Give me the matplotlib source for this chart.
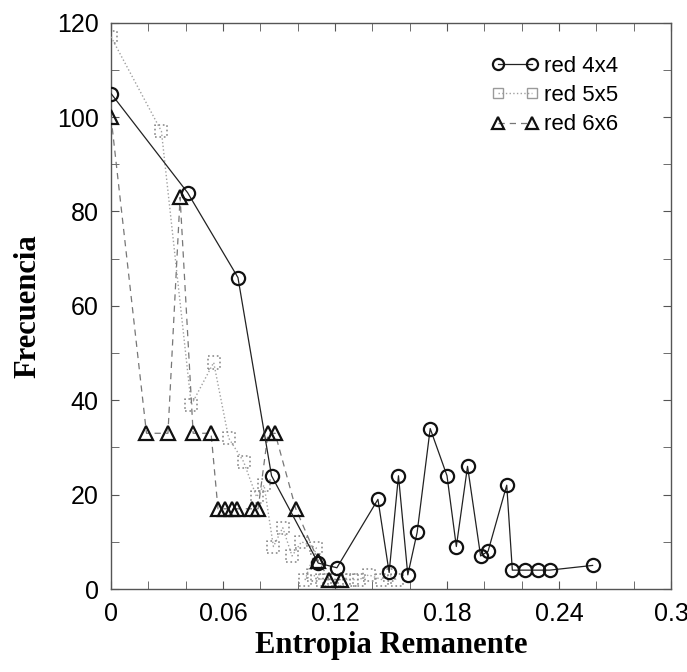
import numpy as np
import matplotlib.pyplot as plt
from matplotlib.ticker import MultipleLocator
from matplotlib.lines import Line2D

# red 4x4
x4 = [0, 0.041, 0.068, 0.086, 0.111, 0.121, 0.143, 0.149, 0.154, 0.159, 0.164,
      0.171, 0.18, 0.185, 0.191, 0.198, 0.202, 0.212, 0.215, 0.222, 0.229, 0.235, 0.258]
y4 = [105, 84, 66, 24, 5.5, 4.5, 19, 3.5, 24, 3, 12,
      34, 24, 9, 26, 7, 8, 22, 4, 4, 4, 4, 5]

# red 5x5
x5 = [0, 0.027, 0.043, 0.055, 0.063, 0.071, 0.078, 0.082, 0.087, 0.092, 0.097, 0.102, 0.110,
      0.104, 0.108, 0.113, 0.117, 0.121, 0.125, 0.129, 0.133, 0.138, 0.145, 0.149, 0.153]
y5 = [117, 97, 39, 48, 32, 27, 19.5, 22, 9, 13, 7, 10, 8.7,
      2, 3, 2, 2, 2, 2, 2, 2, 3, 2, 3, 2]

# red 6x6
x6 = [0, 0.019, 0.0305, 0.037, 0.044, 0.0536, 0.0573, 0.061, 0.0648, 0.0675,
      0.0755, 0.0788, 0.0841, 0.0879, 0.099, 0.111, 0.117, 0.123]
y6 = [100, 33, 33, 83, 33, 33, 17, 17, 17, 17,
      17, 17, 33, 33, 17, 6, 2, 2]

xticks = [0, 0.06, 0.12, 0.18, 0.24, 0.3]
xlabels = ['0', '0.06', '0.12', '0.18', '0.24', '0.3']
yticks = [0, 20, 40, 60, 80, 100, 120]

fig = plt.figure(figsize=(6.87, 6.72), dpi=100)
ax = fig.add_axes([0.1616, 0.1235, 0.8151, 0.8427])

l4, = ax.plot(x4, y4, '-', color='#222222', lw=0.9, marker='o', ms=9.5,
              mfc='none', mec='#111111', mew=1.6, zorder=4)
ax.plot(x5, y5, ':', color='#a0a0a0', lw=1.0, zorder=3)
ax.scatter(x5, y5, marker='s', s=75, facecolors='none', edgecolors='#8c8c8c',
           linewidths=1.2, linestyles=':', zorder=3)
l6, = ax.plot(x6, y6, '--', color='#777777', lw=0.9, dashes=(5, 4), marker='^', ms=10,
              mfc='none', mec='#111111', mew=1.6, zorder=3)
# legend proxy for the dotted squares
p5 = Line2D([], [], ls=':', color='#a0a0a0', lw=1.0, marker='s', ms=7.5,
            mfc='none', mec='#9a9a9a', mew=1.0)

ax.set_xlim(0, 0.3)
ax.set_ylim(0, 120)
ax.set_xticks(xticks)
ax.set_xticklabels(xlabels)
ax.set_yticks(yticks)
ax.xaxis.set_minor_locator(MultipleLocator(0.02))
ax.yaxis.set_minor_locator(MultipleLocator(10))

ax.tick_params(which='both', direction='in', top=True, right=True,
               labelsize=18, pad=9, color='#555555', length=6)
for lab in ax.get_xticklabels() + ax.get_yticklabels():
    lab.set_family('Liberation Sans')
for sp in ax.spines.values():
    sp.set_color('#555555')
    sp.set_linewidth(1.0)

ax.set_xlabel('Entropia Remanente', family='Liberation Serif', fontweight='bold',
              fontsize=22, labelpad=4)
ax.set_ylabel('Frecuencia', family='Liberation Serif', fontweight='bold',
              fontsize=22, labelpad=10)

leg = ax.legend([l4, p5, l6], ['red 4x4', 'red 5x5', 'red 6x6'],
                loc='upper left', bbox_to_anchor=(0.68, 0.942), frameon=False,
                numpoints=2, handlelength=2.1, handletextpad=0.25,
                labelspacing=0.38, borderpad=0, borderaxespad=0,
                prop={'family': 'Liberation Sans', 'size': 16})
for h in leg.legend_handles:
    if h.get_marker() == 'o':
        h.set_markersize(8)
    elif h.get_marker() == '^':
        h.set_markersize(8.5)

fig.savefig('out.png', dpi=100)
